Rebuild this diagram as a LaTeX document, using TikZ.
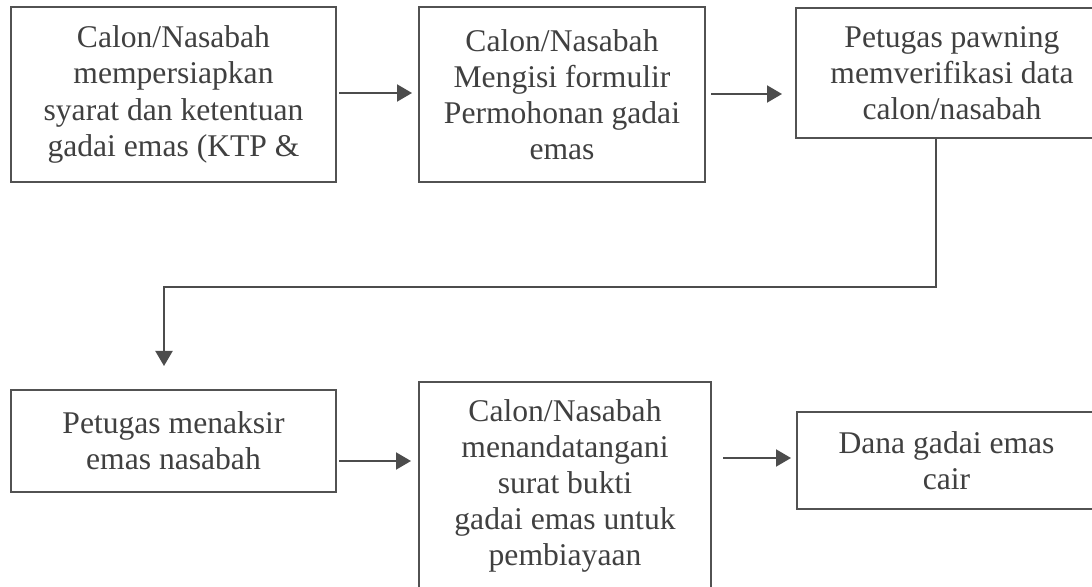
\documentclass[tikz,border=0pt]{standalone}
\usepackage{fontspec}
\setmainfont{Liberation Serif}
\usetikzlibrary{arrows.meta,calc}
\begin{document}
\begin{tikzpicture}[x=0.5pt,y=-0.5pt,
  box/.style={draw=black!68,line width=1pt,align=center,inner sep=0pt,text=black!75,font=\fontsize{15.8}{18.1}\selectfont},
  arr/.style={draw=black!70,line width=1pt,-{Triangle[length=7.5pt,width=8.5pt]}}]
\useasboundingbox (0,0) rectangle (1092,587);
\clip (0,0) rectangle (1092,587);
\fill[white] (0,0) rectangle (1092,587);
\node[box,minimum width=162.5pt,minimum height=87.5pt] (b1) at (173.5,94.5)
  {Calon/Nasabah\\mempersiapkan\\syarat dan ketentuan\\gadai emas (KTP \&};
\node[box,minimum width=143pt,minimum height=87.5pt] (b2) at (562,94.5)
  {Calon/Nasabah\\Mengisi formulir\\Permohonan gadai\\emas};
\node[box,minimum width=156pt,minimum height=65pt] (b3) at (952,73)
  {Petugas pawning\\memverifikasi data\\calon/nasabah};
\node[box,minimum width=162.5pt,minimum height=51pt] (b4) at (173.5,441)
  {Petugas menaksir\\emas nasabah};
\node[box,minimum width=146pt,minimum height=104pt] (b5) at (565,486)
  {Calon/Nasabah\\menandatangani\\surat bukti\\gadai emas untuk\\pembiayaan};
\node[box,minimum width=149.5pt,minimum height=48.5pt] (b6) at (946.5,460.5)
  {Dana gadai emas\\cair};
\coordinate (turn) at (0,287);
\draw[arr] ($(b1.east)+(2,-1.5)$) -- ($(b2.west)+(-6,-1.5)$);
\draw[arr] ($(b2.east)+(5,-0.5)$) coordinate (s2) -- ($(s2 -| b3.west)+(-13,0)$);
\draw[arr] ($(b3.south)+(-16,0)$) coordinate (c0) -- (c0 |- turn) -| ($(b4.north)+(-9.5,-23)$);
\draw[arr] ($(b4.east)+(2,20)$) coordinate (s3) -- ($(s3 -| b5.west)+(-7,0)$);
\draw[arr] ($(b5.east)+(11,-28)$) coordinate (s4) -- ($(s4 -| b6.west)+(-5,0)$);
\end{tikzpicture}
\end{document}
